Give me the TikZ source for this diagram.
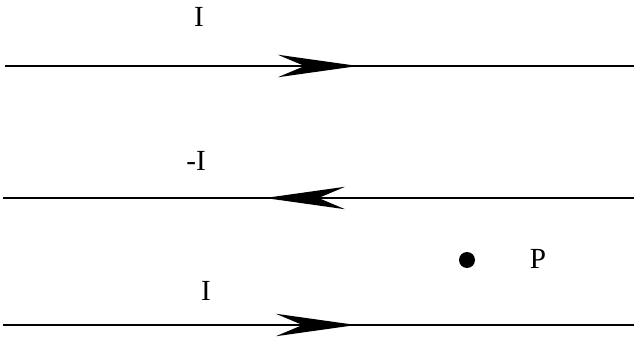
\documentclass[tikz,border=0pt]{standalone}
\usepackage{fontspec}
\setmainfont{Liberation Serif}
\usetikzlibrary{arrows.meta}

\begin{document}
\begin{tikzpicture}[x=0.025cm,y=-0.025cm,
  wire/.style={line width=1.3pt,black},
  flow/.style={line width=1.3pt,-{Stealth[length=57pt,width=16pt,inset=19pt]}},
  lbl/.style={font=\huge,inner sep=0pt},
]
\useasboundingbox (0,0) rectangle (634,341);
% wires
\coordinate (w1a) at (5,66);   \coordinate (w1b) at (634,66);
\coordinate (w2a) at (3,198);  \coordinate (w2b) at (634,198);
\coordinate (w3a) at (3,325);  \coordinate (w3b) at (634,325);
\draw[wire] (w1a) -- (w1b);
\draw[wire] (w2a) -- (w2b);
\draw[wire] (w3a) -- (w3b);
% current arrows
\coordinate (f1a) at (272,66);  \coordinate (f1b) at (358,66);
\coordinate (f2a) at (348,198); \coordinate (f2b) at (265,198);
\coordinate (f3a) at (270,325); \coordinate (f3b) at (356,325);
\draw[flow] (f1a) -- (f1b);
\draw[flow] (f2a) -- (f2b);
\draw[flow] (f3a) -- (f3b);
% labels
\node[lbl] (i1) at (199,17) {I};
\node[lbl] (i2) at (196,161) {-I};
\node[lbl] (i3) at (206,291) {I};
% point P
\fill (467,260) circle (8);
\node[lbl] (p) at (538,259) {P};
\end{tikzpicture}
\end{document}
